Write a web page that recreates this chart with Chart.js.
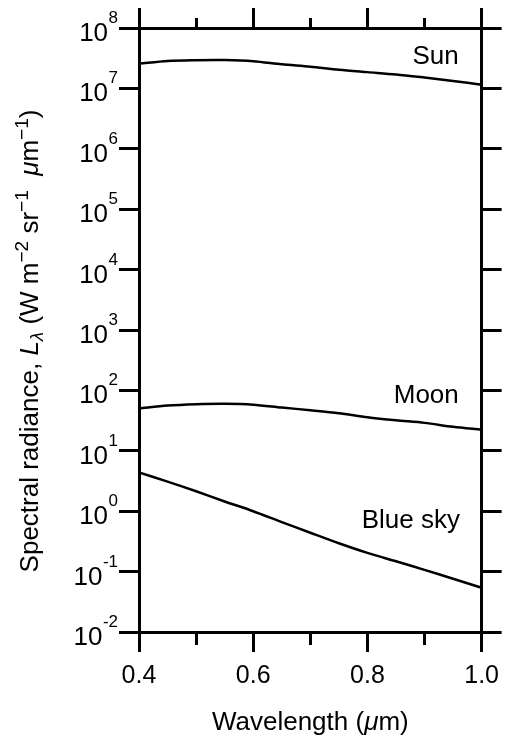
<!DOCTYPE html>
<html>
<head>
<meta charset="utf-8">
<script src="https://cdn.jsdelivr.net/npm/chart.js@4.4.1/dist/chart.umd.min.js"></script>
<style>
    html, body { margin: 0; padding: 0; background: #fff; }
    #chart { display: block; }
</style>
</head>
<body>
<canvas id="chart" width="508" height="738"></canvas>
<script>
// values (W m-2 sr-1 um-1)
const wavelengths = [0.40, 0.45, 0.50, 0.55, 0.60, 0.65, 0.70, 0.75, 0.80, 0.85, 0.90, 0.95, 1.00];
const sunRadiance = [2.57e7, 2.85e7, 2.93e7, 2.94e7, 2.82e7, 2.51e7, 2.29e7, 2.04e7, 1.86e7, 1.70e7, 1.51e7, 1.33e7, 1.15e7];
const moonRadiance = [50, 56, 59, 60, 58, 52, 47, 42, 36, 32, 29, 25, 22.4];
const skyRadiance = [4.37, 3.09, 2.14, 1.45, 1.0, 0.66, 0.44, 0.295, 0.204, 0.148, 0.107, 0.076, 0.054];

const seriesNames = ["Sun", "Moon", "Blue sky"];
const xTicks = [0.4, 0.5, 0.6, 0.7, 0.8, 0.9, 1.0];
const xLabelTicks = [0.4, 0.6, 0.8, 1.0];
const yExponents = [-2, -1, 0, 1, 2, 3, 4, 5, 6, 7, 8];

// where the curve names sit, in data units (right aligned)
const namePlaces = [
    { x: 0.96, y: 3.3e7 },
    { x: 0.96, y: 80 },
    { x: 0.962, y: 0.68 }
];

const FONT = '"Liberation Sans", Arial, Helvetica, sans-serif';

function points(values) {
    return wavelengths.map((w, i) => ({ x: w, y: values[i] }));
}

function isLabelTick(value) {
    return xLabelTicks.some(t => Math.abs(t - value) < 1e-6);
}

function xAxis(position) {
    const top = position === "top";
    return {
        type: "linear",
        position: position,
        min: 0.4,
        max: 1.0,
        afterBuildTicks: scale => {
            scale.ticks = xTicks.map(v => ({ value: v }));
        },
        afterFit: scale => {
            scale.height = top ? 28 : 106;
        },
        border: { display: true, color: "#000", width: 3 },
        grid: {
            drawOnChartArea: false,
            drawTicks: true,
            tickLength: 20,
            tickWidth: 3,
            tickColor: "#000",
            color: "#000",
            lineWidth: 3,
            // short minor ticks: only the part next to the axis is stroked
            tickBorderDash: ctx => {
                if (!ctx.tick || isLabelTick(ctx.tick.value)) return [];
                return top ? [0, 10, 9, 40] : [11, 40];
            }
        },
        ticks: {
            display: !top,
            autoSkip: false,
            maxRotation: 0,
            padding: 9,
            color: "#000",
            font: { family: FONT, size: 25 },
            callback: value => isLabelTick(value) ? value.toFixed(1) : ""
        }
    };
}

function yAxis(position) {
    return {
        type: "logarithmic",
        position: position,
        min: 1e-2,
        max: 1e8,
        afterBuildTicks: scale => {
            scale.ticks = yExponents.map(e => ({ value: Math.pow(10, e) }));
        },
        afterFit: scale => {
            scale.width = position === "left" ? 139 : 24;
        },
        border: { display: true, color: "#000", width: 3 },
        grid: {
            drawOnChartArea: false,
            drawTicks: true,
            tickLength: 20,
            tickWidth: 3,
            tickColor: "#000",
            color: "#000",
            lineWidth: 3
        },
        ticks: { display: false }
    };
}

// draws text pieces one after another, centred on x
function drawPieces(ctx, pieces, x, y) {
    let total = 0;
    pieces.forEach(p => {
        ctx.font = (p.italic ? "italic " : "") + p.size + "px " + FONT;
        p.width = ctx.measureText(p.text).width;
        total += p.width;
    });
    let cx = x - total / 2;
    ctx.textAlign = "left";
    ctx.textBaseline = "alphabetic";
    pieces.forEach(p => {
        ctx.font = (p.italic ? "italic " : "") + p.size + "px " + FONT;
        ctx.fillText(p.text, cx, y + (p.dy || 0));
        cx += p.width;
    });
}

const textPlugin = {
    id: "texts",
    afterDraw(chart) {
        const ctx = chart.ctx;
        const yScale = chart.scales.y;
        const xScale = chart.scales.x;
        ctx.save();
        ctx.fillStyle = "#000";

        // decade labels 10^n
        yExponents.forEach(e => {
            const py = yScale.getPixelForValue(Math.pow(10, e));
            ctx.textAlign = "right";
            ctx.textBaseline = "alphabetic";
            ctx.font = "17px " + FONT;
            const exp = String(e);
            const expWidth = ctx.measureText(exp).width;
            ctx.fillText(exp, 118, py - 5);
            ctx.font = "26px " + FONT;
            ctx.fillText("10", 118 - expWidth - 0.5, py + 13);
        });

        // axis titles
        const big = 26, small = 19;
        ctx.save();
        ctx.translate(38, 341);
        ctx.rotate(-Math.PI / 2);
        drawPieces(ctx, [
            { text: "Spectral radiance, ", size: big },
            { text: "L", size: big, italic: true },
            { text: "\u03bb", size: small, italic: true, dy: 5 },
            { text: " (W m", size: big },
            { text: "\u22122", size: small, dy: -10 },
            { text: " sr", size: big },
            { text: "\u22121", size: small, dy: -10 },
            { text: "  ", size: big },
            { text: "\u03bc", size: big, italic: true },
            { text: "m", size: big },
            { text: "\u22121", size: small, dy: -10 },
            { text: ")", size: big }
        ], 0, 0);
        ctx.restore();

        drawPieces(ctx, [
            { text: "Wavelength (", size: big },
            { text: "\u03bc", size: big, italic: true },
            { text: "m)", size: big }
        ], (chart.chartArea.left + chart.chartArea.right) / 2, 730);

        // curve names
        ctx.font = "26px " + FONT;
        ctx.textAlign = "right";
        ctx.textBaseline = "middle";
        seriesNames.forEach((name, i) => {
            const place = namePlaces[i];
            ctx.fillText(name, xScale.getPixelForValue(place.x), yScale.getPixelForValue(place.y));
        });

        ctx.restore();
    }
};

function line(label, values) {
    return {
        label: label,
        data: points(values),
        borderColor: "#000",
        borderWidth: 2.5,
        pointRadius: 0,
        tension: 0.3,
        fill: false,
        xAxisID: "x",
        yAxisID: "y"
    };
}

new Chart(document.getElementById("chart"), {
    type: "line",
    data: {
        datasets: [
            line(seriesNames[0], sunRadiance),
            line(seriesNames[1], moonRadiance),
            line(seriesNames[2], skyRadiance)
        ]
    },
    options: {
        responsive: false,
        animation: false,
        devicePixelRatio: 1,
        layout: { padding: 0 },
        plugins: {
            legend: { display: false },
            tooltip: { enabled: false }
        },
        scales: {
            x: xAxis("bottom"),
            x2: xAxis("top"),
            y: yAxis("left"),
            y2: yAxis("right")
        }
    },
    plugins: [textPlugin]
});
</script>
</body>
</html>
